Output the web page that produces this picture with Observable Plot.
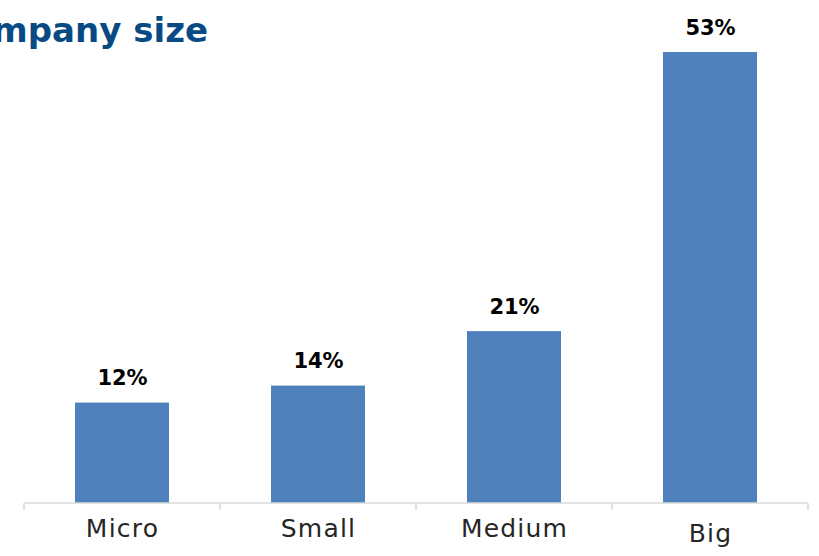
<!DOCTYPE html>
<html>
<head>
<meta charset="utf-8">
<script src="https://cdn.jsdelivr.net/npm/d3@7"></script>
<script src="https://cdn.jsdelivr.net/npm/@observablehq/plot@0.6"></script>
<style>
  html, body { margin: 0; padding: 0; background: #fff; }
  #wrap { position: relative; width: 819px; height: 556px; overflow: hidden; }
  #title {
    position: absolute; top: 0px; left: 0; width: 208px; height: 60px;
    overflow: hidden; white-space: nowrap; text-align: right; direction: rtl;
    font-family: "DejaVu Sans", sans-serif; font-weight: 700; font-size: 34px;
    color: #074a84; line-height: 60px;
  }
  #title span { direction: ltr; unicode-bidi: bidi-override; }
  .catlabel text { letter-spacing: 1.2px; }
</style>
</head>
<body>
<div id="wrap">
  <div id="chart"></div>
  <div id="title"><span>Company size</span></div>
</div>
<script>
const categories = ["Micro", "Small", "Medium", "Big"];
const shares = [11.8, 13.8, 20.2, 53];
const valueLabels = ["12%", "14%", "21%", "53%"];

const data = categories.map((c, i) => ({ category: c, share: shares[i], label: valueLabels[i] }));

const W = 819, H = 556;
const mL = 24, mR = 11, mT = 52, mB = 53;

const chart = Plot.plot({
  width: W,
  height: H,
  marginLeft: mL,
  marginRight: mR,
  marginTop: mT,
  marginBottom: mB,
  style: { background: "#fff", overflow: "visible" },
  x: { domain: categories, paddingInner: 0.52, paddingOuter: 0.26, axis: null },
  y: { domain: [0, 53], axis: null },
  marks: [
    Plot.barY(data, { x: "category", y: "share", fill: "#4f81bd" }),
    Plot.text(data, {
      x: "category", y: "share", text: "label", dy: -18, lineAnchor: "bottom",
      fontFamily: "DejaVu Sans, sans-serif", fontWeight: 700, fontSize: 21, fill: "#000"
    }),
    Plot.text(data.filter(d => d.category !== "Big"), {
      x: "category", text: "category", frameAnchor: "bottom", dy: 33, lineAnchor: "bottom",
      fontFamily: "DejaVu Sans, sans-serif", fontSize: 25, fill: "#262626", className: "catlabel"
    }),
    Plot.text(data.filter(d => d.category === "Big"), {
      x: "category", text: "category", frameAnchor: "bottom", dy: 38, lineAnchor: "bottom",
      fontFamily: "DejaVu Sans, sans-serif", fontSize: 25, fill: "#262626", className: "catlabel"
    })
  ]
});

document.getElementById("chart").appendChild(chart);

// category axis: baseline plus tick marks at band boundaries, positioned from the scales
const xs = chart.scale("x");
const ys = chart.scale("y");
const svg = d3.select(chart);
const y0 = ys.apply(0);
const g = svg.append("g").attr("stroke", "#d9d9d9").attr("stroke-width", 1.5);
const xStart = xs.apply(categories[0]) - xs.step * xs.paddingOuter;
const xEnd = xs.apply(categories[categories.length - 1]) + xs.bandwidth + xs.step * xs.paddingOuter;
g.append("line").attr("x1", xStart).attr("x2", xEnd).attr("y1", y0).attr("y2", y0);
const boundaries = categories.map(c => xs.apply(c) - xs.step * xs.paddingOuter).concat([xEnd]);
boundaries.forEach(b => g.append("line").attr("x1", b).attr("x2", b).attr("y1", y0).attr("y2", y0 + 7));
</script>
</body>
</html>
